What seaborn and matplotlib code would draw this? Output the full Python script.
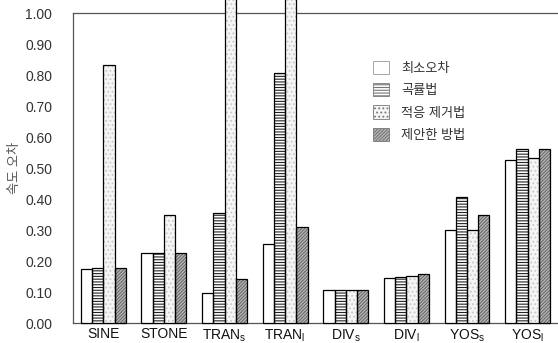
import matplotlib
matplotlib.use("Agg")
import matplotlib.pyplot as plt
from matplotlib.patches import Patch, Rectangle
import seaborn as sns
import pandas as pd

sns.set_style("white")
plt.rcParams["font.family"] = ["Liberation Sans", "Noto Sans CJK KR", "DejaVu Sans"]
plt.rcParams["mathtext.fontset"] = "custom"
plt.rcParams["mathtext.rm"] = "Liberation Sans"
plt.rcParams["mathtext.it"] = "Liberation Sans"
plt.rcParams["hatch.linewidth"] = 0.8

# benchmark sequences
categories = ["SINE", "STONE", "TRAN$_\\mathrm{s}$", "TRAN$_\\mathrm{l}$",
              "DIV$_\\mathrm{s}$", "DIV$_\\mathrm{l}$", "YOS$_\\mathrm{s}$", "YOS$_\\mathrm{l}$"]
methods = ["최소오차", "곡률법", "적응 제거법", "제안한 방법"]

# speed error per method
least_error = [0.174, 0.225, 0.097, 0.254, 0.108, 0.144, 0.300, 0.526]
curvature = [0.177, 0.225, 0.354, 0.808, 0.108, 0.147, 0.405, 0.561]
adaptive_removal = [0.832, 0.348, 1.10, 1.10, 0.108, 0.152, 0.300, 0.532]
proposed = [0.177, 0.225, 0.143, 0.309, 0.108, 0.158, 0.347, 0.561]

yticks = [0.0, 0.1, 0.2, 0.3, 0.4, 0.5, 0.6, 0.7, 0.8, 0.9, 1.0]

rows = []
for m, vals in zip(methods, [least_error, curvature, adaptive_removal, proposed]):
    for c, v in zip(categories, vals):
        rows.append({"category": c, "method": m, "error": v})
df = pd.DataFrame(rows)

# face colour, hatch pattern, hatch colour per method
styles = [
    ("white", "", "black"),
    ("white", "------", "#222222"),
    ("#f5f5f5", "....", "#c8c8c8"),
    ("#b8b8b8", "//////////", "#6a6a6a"),
]

fig = plt.figure(figsize=(5.58, 3.43), dpi=100)
ax = fig.add_axes([0.1308, 0.0583, 0.8692, 0.9037])

sns.barplot(data=df, x="category", y="error", hue="method", hue_order=methods,
            order=categories, palette=["white"] * 4, width=0.74, gap=0,
            errorbar=None, legend=False, ax=ax)

for container, (fc, hatch, hc) in zip(ax.containers, styles):
    for p in container.patches:
        p.set_facecolor(fc)
        p.set_hatch(hatch)
        p.set_edgecolor(hc)
        p.set_linewidth(0)
        p.set_clip_on(False)
        p.set_zorder(3)
        ax.add_patch(Rectangle(p.get_xy(), p.get_width(), p.get_height(),
                               fill=False, edgecolor="black", linewidth=0.9,
                               clip_on=False, zorder=3.1))

ax.set_xlim(-0.5, 7.5)
ax.set_ylim(0, 1.0)
ax.set_yticks(yticks)
ax.set_yticklabels([f"{t:.2f}" for t in yticks])
ax.tick_params(axis="y", length=0, pad=15, labelsize=10, labelcolor="#333333")
ax.tick_params(axis="x", length=0, pad=3, labelsize=10, labelcolor="#111111")
ax.set_xlabel("")
ax.set_ylabel("속도 오차", fontsize=9.5, color="#555555", labelpad=3)

for side in ["left", "bottom", "top"]:
    ax.spines[side].set_color("#555555")
    ax.spines[side].set_linewidth(0.9)
    ax.spines[side].set_zorder(1)
ax.spines["right"].set_visible(False)

handles = [Patch(facecolor=fc, hatch=h, edgecolor=("#777777" if i else "#999999"),
                 linewidth=0.6) for i, (fc, h, hc) in enumerate(styles)]
leg = ax.legend(handles, methods, loc="upper left", bbox_to_anchor=(0.595, 0.885),
                frameon=False, fontsize=9.5, handlelength=1.2, handleheight=1.2,
                labelspacing=0.62, handletextpad=0.9)
for t in leg.get_texts():
    t.set_color("#333333")

fig.savefig("out.png", dpi=100)
